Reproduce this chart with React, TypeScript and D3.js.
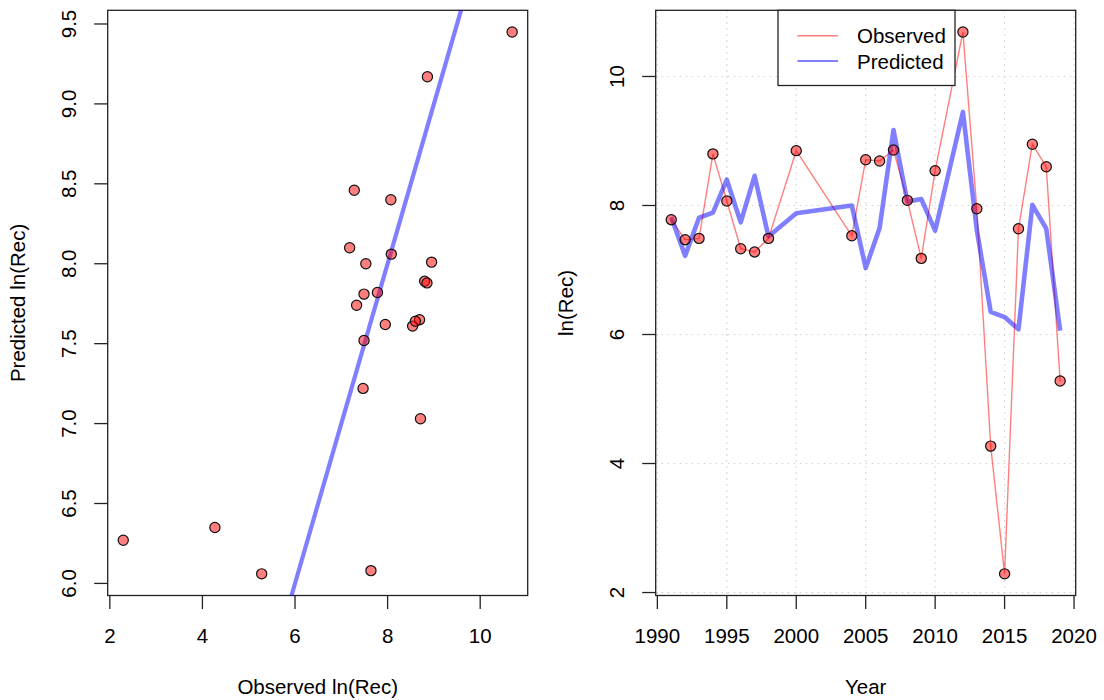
import React from 'react';
import { scaleLinear, line, extent } from 'd3';

// observed and predicted ln(recruitment), by year (1999, 2001-2003 and 2011 are missing)
const years = [
  1991, 1992, 1993, 1994, 1995, 1996, 1997, 1998, 2000, 2004, 2005, 2006,
  2007, 2008, 2009, 2010, 2012, 2013, 2014, 2015, 2016, 2017, 2018, 2019,
];
const observed = [
  7.78, 7.47, 7.49, 8.8, 8.07, 7.33, 7.28, 7.49, 8.85, 7.53, 8.71, 8.69,
  8.86, 8.08, 7.18, 8.54, 10.69, 7.95, 4.27, 2.29, 7.64, 8.95, 8.6, 5.28,
];
const predicted = [
  7.82, 7.22, 7.81, 7.89, 8.4, 7.74, 8.46, 7.52, 7.88, 8.0, 7.03, 7.65,
  9.17, 8.06, 8.1, 7.61, 9.45, 7.62, 6.35, 6.27, 6.08, 8.01, 7.64, 6.06,
];

const scatterXTicks = [2, 4, 6, 8, 10];
const scatterYTicks = [6.0, 6.5, 7.0, 7.5, 8.0, 8.5, 9.0, 9.5];
const yearTicks = [1990, 1995, 2000, 2005, 2010, 2015, 2020];
const recTicks = [2, 4, 6, 8, 10];
const legendLabels = ['Observed', 'Predicted'];

const W = 1104;
const H = 700;
const top = 10.3;
const bottom = 595.5;
const leftBox = { x0: 107.7, x1: 527.7 };
const rightBox = { x0: 655.7, x1: 1075.7 };

const FONT = '"Liberation Sans", Arial, Helvetica, sans-serif';
const FS = 20.5;
const RED_FILL = 'rgba(255,0,0,0.5)';
const RED_LINE = 'rgba(255,0,0,0.5)';
const BLUE_LINE = 'rgba(0,0,255,0.5)';
const PT_R = 5.1;

// R style axis range: data range padded by 4%
function rDomain(vals: number[]): [number, number] {
  const [a, b] = extent(vals) as [number, number];
  const pad = (b - a) * 0.04;
  return [a - pad, b + pad];
}

function Axes({ x, y, xTicks, yTicks, x0, x1, xFmt, yFmt, xTitle, yTitle }: any) {
  const cx = (x0 + x1) / 2;
  const cy = (top + bottom) / 2;
  return (
    <g fontFamily={FONT} fontSize={FS} fill="#000">
      <rect x={x0} y={top} width={x1 - x0} height={bottom - top} fill="none" stroke="#222" strokeWidth={1.3} />
      {xTicks.map((t: number) => (
        <g key={'x' + t}>
          <line x1={x(t)} x2={x(t)} y1={bottom} y2={bottom + 13.5} stroke="#222" strokeWidth={1.3} />
          <text x={x(t)} y={bottom + 39.5} textAnchor="middle" dominantBaseline="central">
            {xFmt(t)}
          </text>
        </g>
      ))}
      {yTicks.map((t: number) => (
        <g key={'y' + t}>
          <line x1={x0 - 13.5} x2={x0} y1={y(t)} y2={y(t)} stroke="#222" strokeWidth={1.3} />
          <text
            transform={`translate(${x0 - 39.4},${y(t)}) rotate(-90)`}
            textAnchor="middle"
            dominantBaseline="central"
          >
            {yFmt(t)}
          </text>
        </g>
      ))}
      <text x={cx} y={bottom + 90.5} textAnchor="middle" dominantBaseline="central">
        {xTitle}
      </text>
      <text transform={`translate(${x0 - 90.5},${cy}) rotate(-90)`} textAnchor="middle" dominantBaseline="central">
        {yTitle}
      </text>
    </g>
  );
}

function Scatter() {
  const x = scaleLinear().domain(rDomain(observed)).range([leftBox.x0, leftBox.x1]);
  const y = scaleLinear().domain(rDomain(predicted)).range([bottom, top]);
  const [dx0, dx1] = x.domain();
  // 1:1 line clipped to the plot box
  const lo = Math.max(dx0, y.domain()[0]);
  const hi = Math.min(dx1, y.domain()[1]);
  return (
    <g>
      <Axes
        x={x}
        y={y}
        xTicks={scatterXTicks}
        yTicks={scatterYTicks}
        x0={leftBox.x0}
        x1={leftBox.x1}
        xFmt={(d: number) => String(d)}
        yFmt={(d: number) => d.toFixed(1)}
        xTitle="Observed ln(Rec)"
        yTitle="Predicted ln(Rec)"
      />
      <line x1={x(lo)} y1={y(lo)} x2={x(hi)} y2={y(hi)} stroke={BLUE_LINE} strokeWidth={4.2} />
      {observed.map((o, i) => (
        <circle key={i} cx={x(o)} cy={y(predicted[i])} r={PT_R} fill={RED_FILL} stroke="#111" strokeWidth={1.2} />
      ))}
    </g>
  );
}

function TimeSeries() {
  const x = scaleLinear().domain(rDomain(years)).range([rightBox.x0, rightBox.x1]);
  const y = scaleLinear().domain(rDomain([...observed, ...predicted])).range([bottom, top]);
  const obsLine = line<number>()
    .x((_, i) => x(years[i]))
    .y((d) => y(d));
  const leg = { x0: 778, x1: 955, y0: top, y1: 85.5 };
  return (
    <g>
      {yearTicks.map((t) => (
        <line key={'gx' + t} x1={x(t)} x2={x(t)} y1={top} y2={bottom} stroke="#cfcfcf" strokeWidth={1.2} strokeDasharray="1.5,4.5" />
      ))}
      {recTicks.map((t) => (
        <line key={'gy' + t} x1={rightBox.x0} x2={rightBox.x1} y1={y(t)} y2={y(t)} stroke="#cfcfcf" strokeWidth={1.2} strokeDasharray="1.5,4.5" />
      ))}
      <Axes
        x={x}
        y={y}
        xTicks={yearTicks}
        yTicks={recTicks}
        x0={rightBox.x0}
        x1={rightBox.x1}
        xFmt={(d: number) => String(d)}
        yFmt={(d: number) => String(d)}
        xTitle="Year"
        yTitle="ln(Rec)"
      />
      <path d={obsLine(observed) || ''} fill="none" stroke={RED_LINE} strokeWidth={1.4} />
      <path d={obsLine(predicted) || ''} fill="none" stroke={BLUE_LINE} strokeWidth={4.6} strokeLinejoin="round" />
      {observed.map((o, i) => (
        <circle key={i} cx={x(years[i])} cy={y(o)} r={PT_R} fill={RED_FILL} stroke="#111" strokeWidth={1.2} />
      ))}
      <g fontFamily={FONT} fontSize={FS}>
        <rect x={leg.x0} y={leg.y0} width={leg.x1 - leg.x0} height={leg.y1 - leg.y0} fill="#fff" stroke="#222" strokeWidth={1.3} />
        {legendLabels.map((lab, i) => {
          const ly = 35.7 + i * 25.3;
          return (
            <g key={lab}>
              <line x1={797.5} x2={838} y1={ly} y2={ly} stroke={i === 0 ? RED_LINE : BLUE_LINE} strokeWidth={i === 0 ? 1.4 : 2.2} />
              <text x={857} y={ly} dominantBaseline="central">
                {lab}
              </text>
            </g>
          );
        })}
      </g>
    </g>
  );
}

export default function App() {
  return (
    <svg
      width={W}
      height={H}
      style={{ position: 'absolute', left: 0, top: 0, background: '#fff' }}
    >
      <rect width={W} height={H} fill="#fff" />
      <Scatter />
      <TimeSeries />
    </svg>
  );
}
